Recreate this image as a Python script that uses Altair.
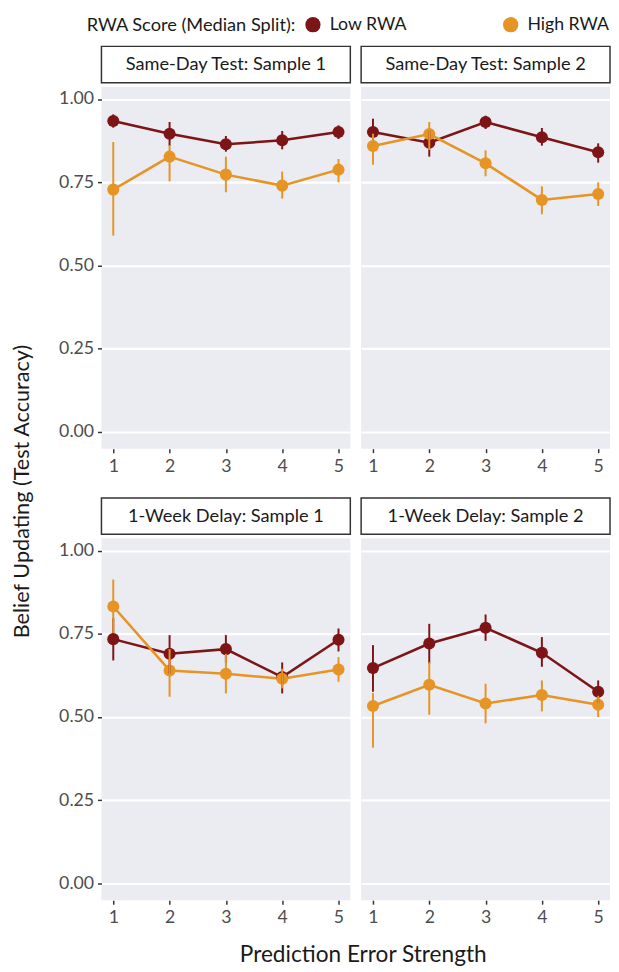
import altair as alt
import pandas as pd

panels = ["Same-Day Test: Sample 1", "Same-Day Test: Sample 2",
          "1-Week Delay: Sample 1", "1-Week Delay: Sample 2"]
levels = [1, 2, 3, 4, 5]
groups = ["Low RWA", "High RWA"]

# Low RWA
low_mean = [[0.934, 0.896, 0.864, 0.876, 0.901],
            [0.901, 0.869, 0.931, 0.885, 0.840],
            [0.734, 0.690, 0.704, 0.620, 0.732],
            [0.647, 0.721, 0.768, 0.693, 0.576]]
low_lo = [[0.914, 0.859, 0.842, 0.849, 0.880],
          [0.862, 0.827, 0.910, 0.860, 0.809],
          [0.670, 0.630, 0.663, 0.571, 0.697],
          [0.576, 0.660, 0.729, 0.651, 0.541]]
low_hi = [[0.954, 0.931, 0.889, 0.904, 0.921],
          [0.941, 0.906, 0.950, 0.913, 0.867],
          [0.798, 0.746, 0.746, 0.664, 0.766],
          [0.716, 0.780, 0.808, 0.740, 0.610]]
# High RWA
high_mean = [[0.728, 0.827, 0.773, 0.740, 0.788],
             [0.859, 0.895, 0.807, 0.697, 0.715],
             [0.832, 0.640, 0.630, 0.615, 0.643],
             [0.533, 0.597, 0.541, 0.566, 0.537]]
high_lo = [[0.590, 0.753, 0.720, 0.701, 0.750],
           [0.803, 0.847, 0.768, 0.654, 0.679],
           [0.752, 0.561, 0.571, 0.586, 0.606],
           [0.408, 0.507, 0.481, 0.517, 0.500]]
high_hi = [[0.871, 0.862, 0.827, 0.782, 0.820],
           [0.896, 0.931, 0.846, 0.738, 0.750],
           [0.913, 0.704, 0.690, 0.645, 0.680],
           [0.572, 0.665, 0.600, 0.610, 0.564]]

colors = ["#7D1416", "#E69424"]
FONT = "Lato"

rows = []
for gi, (m, lo, hi) in enumerate([(low_mean, low_lo, low_hi), (high_mean, high_lo, high_hi)]):
    for pi, p in enumerate(panels):
        for li, lv in enumerate(levels):
            rows.append({"panel": p, "level": lv, "group": groups[gi],
                         "mean": m[pi][li], "lo": lo[pi][li], "hi": hi[pi][li]})
df = pd.DataFrame(rows)

W, H, SH = 253, 368, 37


def panel(name, show_y, show_legend):
    base = alt.Chart(df).transform_filter(alt.datum.panel == name)
    x = alt.X("level:Q", scale=alt.Scale(domain=[0.79, 5.21], nice=False, zero=False),
              axis=alt.Axis(values=levels, title=None, grid=False, domain=False, format="d",
                            tickColor="#333333", tickSize=4, tickWidth=1.5,
                            labelFontSize=18, labelColor="#4D4D4D", labelFont=FONT,
                            labelPadding=5))
    yaxis = alt.Axis(values=[0, 0.25, 0.5, 0.75, 1.0], format=".2f", title=None,
                     grid=True, gridColor="white", gridWidth=2.2, domain=False,
                     labels=show_y, ticks=show_y, tickColor="#333333", tickSize=4,
                     tickWidth=1.5, labelFontSize=18, labelColor="#4D4D4D",
                     labelFont=FONT, labelPadding=4)
    y = alt.Y("mean:Q", scale=alt.Scale(domain=[-0.05, 1.037], nice=False, zero=False),
              axis=yaxis)
    ckw = dict(scale=alt.Scale(domain=groups, range=colors))
    if show_legend:
        ckw["legend"] = alt.Legend(
            title="RWA Score (Median Split):", orient="none", direction="horizontal",
            legendX=-15, legendY=-31, titleOrient="left", titleFontSize=18.5,
            titleFont=FONT, titleFontWeight="normal", titleColor="#1A1A1A",
            titleLimit=400, labelLimit=200,
            labelFontSize=18, labelFont=FONT, labelColor="#1A1A1A",
            symbolType="circle", symbolSize=240, symbolStrokeWidth=0,
            columnPadding=96, labelOffset=8, titlePadding=8)
    else:
        ckw["legend"] = None
    color = alt.Color("group:N", **ckw)
    line = base.mark_line(strokeWidth=2.6).encode(x=x, y=y, color=color)
    pts = base.mark_circle(size=150, opacity=1).encode(x=x, y=y, color=color)
    rules = base.mark_rule(strokeWidth=2).encode(x=x, y="lo:Q", y2="hi:Q", color=color)
    return alt.layer(line, pts, rules).properties(
        width=W, height=H,
        view=alt.ViewBackground(fill="#EBEBF2", strokeWidth=0))


def strip(name):
    return alt.Chart(pd.DataFrame({"t": [name]})).mark_text(
        fontSize=18.5, font=FONT, color="#1A1A1A").encode(text="t:N").properties(
        width=W, height=SH,
        view=alt.ViewBackground(fill="white", stroke="#333333", strokeWidth=1.5))


def cell(i, show_y, show_legend=False):
    return alt.vconcat(strip(panels[i]), panel(panels[i], show_y, show_legend), spacing=3)


row1 = alt.hconcat(cell(0, True, True), cell(1, False), spacing=9)
row2 = alt.hconcat(cell(2, True), cell(3, False), spacing=9).properties(
    title=alt.TitleParams("Prediction Error Strength", orient="bottom", anchor="middle",
                          fontSize=23, font=FONT, fontWeight="normal", color="#1A1A1A",
                          offset=18, dx=29))

chart = alt.vconcat(row1, row2, spacing=22).properties(
    padding={"left": 3, "top": 0, "right": 0, "bottom": 0},
    title=alt.TitleParams("Belief Updating (Test Accuracy)", orient="left", anchor="middle",
                          fontSize=22, font=FONT, fontWeight="normal", color="#1A1A1A",
                          offset=25)
).configure_view(strokeWidth=0).configure(background="white")

chart.save("out.html", embed_options={"renderer": "svg", "actions": False})
